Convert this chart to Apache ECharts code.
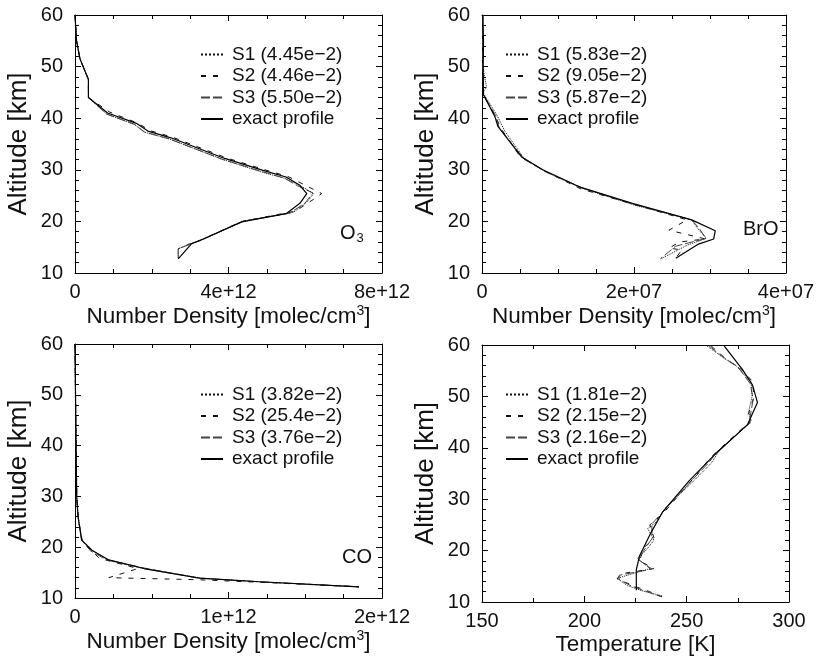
<!DOCTYPE html>
<html>
<head>
<meta charset="utf-8">
<script src="https://cdn.jsdelivr.net/npm/echarts@6/dist/echarts.min.js"></script>
<style>
html,body{margin:0;padding:0;background:#fff;}
#c{width:817px;height:663px;}
</style>
</head>
<body>
<div id="c"></div>
<script>
// ---------- data (x value, altitude km) ----------
// O3 number density, units of 1e12 molec/cm3
const o3Exact = [[0,60],[0.04,55],[0.13,51.5],[0.35,47.5],[0.35,44],[0.85,41],[1.6,39],[1.9,37.5],[2.5,36.2],[3.9,32.2],[4.9,29.9],[5.5,28.6],[5.86,27],[6.04,25.4],[5.86,23.5],[5.5,21.5],[4.34,19.9],[3.26,16.3],[3.04,15.7],[2.69,12.75]];
const o3S1 = [[0,60],[0.04,55],[0.13,51.5],[0.35,47.5],[0.35,44],[0.83,40.8],[1.55,38.8],[1.8,37.3],[2.45,36],[3.85,32],[4.85,29.6],[5.5,28.3],[5.9,26.8],[6.22,25.4],[6.05,23.8],[5.7,21.8],[4.4,20],[3.3,16.5],[3.04,15.7],[2.69,14.7],[2.69,12.75]];
const o3S2 = [[0,60],[0.04,55],[0.13,51.5],[0.35,47.5],[0.35,44],[0.9,41.2],[1.65,39],[1.95,37.6],[2.55,36.3],[3.95,32.3],[4.95,30],[5.55,28.7],[5.95,27.2],[6.43,25.4],[6.2,24.2],[5.75,22],[4.35,20],[3.25,16.3],[3.0,15.7],[2.69,14.7]];
const o3S3 = [[0,60],[0.04,55],[0.13,51.5],[0.35,47.5],[0.35,44],[0.82,40.8],[1.55,38.8],[1.82,37.3],[2.45,36],[3.85,32],[4.85,29.7],[5.45,28.4],[5.8,26.9],[6.2,25.5],[6.0,23.6],[5.6,21.6],[4.4,20.1],[3.3,16.4],[3.04,15.7],[2.69,14.7],[2.69,12.75]];
// BrO number density, units of 1e7 molec/cm3
const broExact = [[0.01,60],[0.02,55],[0.015,50],[0.02,44.5],[0.17,40.3],[0.21,38.4],[0.52,32.5],[0.8,30],[1.28,26.7],[1.98,23.5],[2.76,20.3],[3.07,18.2],[3.05,16.6],[2.85,15.6],[2.55,12.85]];
const broS1 = [[0.01,60],[0.01,50],[0.06,46],[0.01,45],[0.2,40.5],[0.3,37.5],[0.55,32.3],[0.85,29.5],[1.3,26.5],[2.0,23.2],[2.76,20.3],[2.83,18.8],[2.95,16.7],[2.7,15.4],[2.35,12.7]];
const broS2 = [[0.01,60],[0.01,50],[0.02,44.5],[0.18,40.3],[0.25,38],[0.5,32.6],[0.82,29.8],[1.3,26.3],[2.0,23.3],[2.7,20.3],[2.46,18.3],[2.94,16.6],[2.6,16.0],[2.46,14.8],[2.63,14.5],[2.55,12.85]];
const broS3 = [[0.01,60],[0.01,50],[0.02,44.5],[0.18,40.5],[0.23,38],[0.56,32],[0.84,29.6],[1.32,26.5],[2.02,23.2],[2.76,20.3],[2.85,18.8],[2.95,16.7],[2.55,15.2],[2.35,12.8]];
// CO number density, units of 1e12 molec/cm3
const coExact = [[0,60],[0.005,45],[0.011,30],[0.02,26],[0.033,23.4],[0.043,21.4],[0.11,19.4],[0.22,17.5],[0.45,15.8],[0.81,13.9],[1.2,13.2],[1.85,12.2]];
const coS1 = [[0,60],[0.005,45],[0.011,30],[0.02,26],[0.033,23.4],[0.05,21.3],[0.12,19.2],[0.23,17.3],[0.46,15.7],[0.82,13.9],[1.2,13.2],[1.85,12.2]];
const coS2 = [[0,60],[0.005,45],[0.012,30],[0.02,26],[0.033,23.4],[0.045,21.3],[0.1,19.5],[0.16,17.8],[0.41,15.8],[0.22,14.0],[0.8,13.6],[1.2,13.1],[1.85,12.2]];
const coS3 = [[0,60],[0.005,45],[0.011,30],[0.02,26],[0.035,23.4],[0.045,21.4],[0.1,19.3],[0.2,17.6],[0.45,15.9],[0.81,13.9],[1.2,13.2],[1.85,12.2]];
// Temperature, K
const tExact = [[268.4,59.8],[277.3,55.2],[282.2,52.2],[284.6,48.8],[279.7,44.5],[264.3,38.9],[251.3,33.6],[238.4,27.6],[232.7,23.6],[227,19],[225.4,16.3],[225.4,12.3]];
const tS1 = [[260,59.8],[268,57.5],[274,56],[281.5,52.8],[282,50],[280.5,47.5],[281,45],[266,39.5],[262,37],[252,33],[240,28.5],[235,25.5],[231,24.3],[234,22],[230,20],[226,18.5],[232,16.5],[216,14.6],[221,13.2],[228,12.2],[238,11.2]];
const tS2 = [[262,59.8],[270,57],[276,55.5],[282,53],[283,50],[280,46.5],[282,45.5],[264,39],[260,37.3],[251,33],[238,27],[232,25],[234,22.5],[229,20.5],[227,18],[234,16.5],[218,15.5],[216,14.5],[225,13],[232,12],[238,11]];
const tS3 = [[261,59.8],[269,57.3],[275,55.8],[281,52.5],[282.5,49.5],[281,46],[281.5,45],[265,39.3],[261,37.2],[251.5,33.2],[239,27.8],[233,25.2],[233,22.3],[229.5,20.3],[226.5,18.2],[233,16.4],[217,15.2],[217,14.4],[223,13.1],[230,12.1],[237,11.1]];

const legendNames = [
  ['S1 (4.45e\u22122)','S2 (4.46e\u22122)','S3 (5.50e\u22122)','exact profile'],
  ['S1 (5.83e\u22122)','S2 (9.05e\u22122)','S3 (5.87e\u22122)','exact profile'],
  ['S1 (3.82e\u22122)','S2 (25.4e\u22122)','S3 (3.76e\u22122)','exact profile'],
  ['S1 (1.81e\u22122)','S2 (2.15e\u22122)','S3 (2.16e\u22122)','exact profile']
];
const xTickLabels = [
  {0:'0',4:'4e+12',8:'8e+12'},
  {0:'0',2:'2e+07',4:'4e+07'},
  {0:'0',1:'1e+12',2:'2e+12'},
  {150:'150',200:'200',250:'250',300:'300'}
];
const yTickLabels = {10:'10',20:'20',30:'30',40:'40',50:'50',60:'60'};
const xRanges = [[0,8,4,4],[0,4,2,4],[0,2,1,4],[150,300,50,2]];
const xNames = ['nd','nd','nd','Temperature [K]'];
const panelLabels = ['{a|O}{s|3}','{a|BrO}','{a|CO}',''];
const seriesData = [[o3S1,o3S2,o3S3,o3Exact],[broS1,broS2,broS3,broExact],[coS1,coS2,coS3,coExact],[tS1,tS2,tS3,tExact]];

// ---------- layout ----------
const FONT = "'Liberation Sans', Arial, Helvetica, sans-serif";
const TXT = '#111';
const grids = [
  {left:75, top:15, width:307, height:258},
  {left:482, top:15, width:306, height:258},
  {left:75, top:344, width:307, height:254},
  {left:482, top:345, width:307, height:257}
];
const legendPos = [
  {left:200, top:45},{left:505, top:45},{left:200, top:385},{left:505, top:385}
];
const labelPos = [{left:335, top:216},{left:738, top:212},{left:337, top:540}];

const styles = [
  {type:'dotted', width:1, color:'#111'},
  {type:[5,7], width:1, color:'#111'},
  {type:[9,3], width:1, color:'#444'},
  {type:'solid', width:1.2, color:'#000'}
];

const axisLine = {show:true, onZero:false, lineStyle:{color:'#000', width:1}};
const tickCommon = {show:true, inside:true, length:6, lineStyle:{color:'#000', width:1}};

const xAxes = [], yAxes = [], series = [], legends = [], titles = [];
const ndName = '{a|Number Density [molec/cm}{s|3}{a|]}';
const nameRich = {a:{fontSize:22.5, fontFamily:FONT, color:TXT, lineHeight:26}, s:{fontSize:14, fontFamily:FONT, color:TXT, verticalAlign:'top', lineHeight:26, padding:[0,0,14,0]}};

for (let i=0;i<4;i++){
  const [mn,mx,iv,ms] = xRanges[i];
  const lbl = xTickLabels[i];
  xAxes.push({
    type:'value', gridIndex:i, position:'bottom', min:mn, max:mx, interval:iv,
    axisLine, axisTick:tickCommon,
    minorTick:{show:true, splitNumber:ms, length:4, lineStyle:{color:'#000'}},
    splitLine:{show:false},
    axisLabel:{fontSize:20, fontFamily:FONT, color:TXT, margin:9, formatter:v=>lbl[v]!==undefined?lbl[v]:''},
    name: xNames[i]==='nd'? ndName : xNames[i], nameLocation:'middle', nameGap:31,
    nameTextStyle: xNames[i]==='nd' ? {rich:nameRich} : {fontSize:22.5, fontFamily:FONT, color:TXT}
  });
  xAxes.push({
    type:'value', gridIndex:i, position:'top', min:mn, max:mx, interval:iv,
    axisLine, axisTick:tickCommon,
    minorTick:{show:true, splitNumber:ms, length:4, lineStyle:{color:'#000'}},
    splitLine:{show:false}, axisLabel:{show:false}
  });
  yAxes.push({
    type:'value', gridIndex:i, position:'left', min:10, max:60, interval:10,
    axisLine, axisTick:tickCommon,
    minorTick:{show:true, splitNumber:5, length:4, lineStyle:{color:'#000'}},
    splitLine:{show:false},
    axisLabel:{fontSize:20, fontFamily:FONT, color:TXT, margin:12, formatter:v=>yTickLabels[v]||''},
    name:'Altitude [km]', nameLocation:'middle', nameGap:43,
    nameTextStyle:{fontSize:26, fontFamily:FONT, color:TXT}
  });
  yAxes.push({
    type:'value', gridIndex:i, position:'right', min:10, max:60, interval:10,
    axisLine, axisTick:tickCommon,
    minorTick:{show:true, splitNumber:5, length:4, lineStyle:{color:'#000'}},
    splitLine:{show:false}, axisLabel:{show:false}
  });
  for (let k=0;k<4;k++){
    series.push({
      type:'line', name: legendNames[i][k], xAxisIndex:2*i, yAxisIndex:2*i,
      data: seriesData[i][k], symbol:'none', showSymbol:false,
      lineStyle: styles[k], itemStyle:{color:styles[k].color},
      z: k===3?5:3, animation:false, silent:true
    });
  }
  legends.push({
    left:legendPos[i].left, top:legendPos[i].top, orient:'vertical', padding:0,
    itemWidth:22, itemHeight:14, itemGap:2.5,
    data: legendNames[i].slice(),
    itemStyle:{opacity:0, borderWidth:0},
    textStyle:{fontSize:19, fontFamily:FONT, color:TXT, padding:[0,0,0,4]},
    selectedMode:false
  });
  if (panelLabels[i]) titles.push({
    left:labelPos[i].left, top:labelPos[i].top, text:panelLabels[i],
    textStyle:{fontWeight:'normal', rich:{a:{fontSize:20, fontWeight:'normal', fontFamily:FONT, color:TXT, lineHeight:24}, s:{fontSize:13, fontWeight:'normal', fontFamily:FONT, color:TXT, verticalAlign:'bottom', lineHeight:24, padding:[10,0,0,1]}}}
  });
}

const chart = echarts.init(document.getElementById('c'), null, {renderer:'canvas'});
chart.setOption({
  backgroundColor:'#fff',
  animation:false,
  grid: grids,
  xAxis: xAxes,
  yAxis: yAxes,
  legend: legends,
  title: titles,
  series: series
});
</script>
</body>
</html>
